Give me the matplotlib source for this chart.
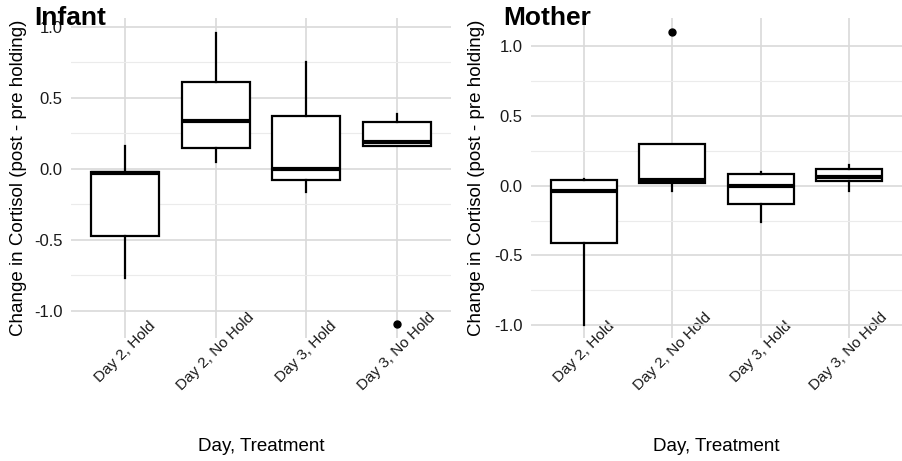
import matplotlib.pyplot as plt
from matplotlib.ticker import MultipleLocator

plt.rcParams['font.family'] = ['Liberation Sans', 'DejaVu Sans']
plt.rcParams['axes.unicode_minus'] = False

categories = ["Day 2, Hold", "Day 2, No Hold", "Day 3, Hold", "Day 3, No Hold"]

# infant: lower whisker, Q1, median, Q3, upper whisker, outliers
infant_whislo = [-0.77, 0.05, -0.16, 0.16]
infant_q1 = [-0.47, 0.15, -0.08, 0.16]
infant_med = [-0.03, 0.34, 0.00, 0.19]
infant_q3 = [-0.02, 0.61, 0.37, 0.33]
infant_whishi = [0.16, 0.96, 0.75, 0.39]
infant_fliers = [[], [], [], [-1.09]]

mother_whislo = [-1.00, -0.04, -0.26, -0.04]
mother_q1 = [-0.41, 0.02, -0.13, 0.03]
mother_med = [-0.04, 0.04, 0.00, 0.06]
mother_q3 = [0.04, 0.30, 0.08, 0.12]
mother_whishi = [0.05, 0.30, 0.10, 0.15]
mother_fliers = [[], [1.10], [], []]


def make_stats(lo, q1, med, q3, hi, fl):
    return [dict(whislo=a, q1=b, med=c, q3=d, whishi=e, fliers=f, label=lab)
            for a, b, c, d, e, f, lab in zip(lo, q1, med, q3, hi, fl, categories)]


def draw(ax, stats, ylim, title, title_x, ylab_x):
    ax.bxp(stats, positions=range(1, 5), widths=0.75, showcaps=False,
           patch_artist=True,
           boxprops=dict(facecolor='white', edgecolor='black', linewidth=1.6),
           medianprops=dict(color='black', linewidth=3),
           whiskerprops=dict(color='black', linewidth=1.6),
           flierprops=dict(marker='o', markerfacecolor='black',
                           markeredgecolor='black', markersize=5))
    ax.set_xlim(0.4, 4.6)
    ax.set_ylim(*ylim)
    ax.yaxis.set_major_locator(MultipleLocator(0.5))
    ax.yaxis.set_minor_locator(MultipleLocator(0.25))
    ax.set_axisbelow(True)
    ax.grid(which='major', color='#d9d9d9', linewidth=1.2)
    ax.grid(which='minor', axis='y', color='#ebebeb', linewidth=0.8)
    for s in ax.spines.values():
        s.set_visible(False)
    ax.tick_params(which='both', length=0, labelcolor='#1a1a1a')
    ax.tick_params(axis='y', labelsize=12, pad=6)
    ax.tick_params(axis='x', labelsize=11, pad=10)
    ax.set_xticks(range(1, 5))
    ax.set_xticklabels(categories, rotation=45, ha='center', va='center')
    ax.set_ylabel("Change in Cortisol (post - pre holding)", fontsize=13.5,
                  ha='center', va='center')
    ax.yaxis.set_label_coords(ylab_x, 0.5)
    ax.set_xlabel("Day, Treatment", fontsize=13.5)
    ax.xaxis.set_label_coords(0.5, -0.34)
    ax.xaxis.label.set_va('center')
    ax.figure.text(title_x, 0.962, title, fontsize=19, fontweight='bold',
                   va='center', ha='left')


fig = plt.figure(figsize=(9.02, 4.61), dpi=100)
ax1 = fig.add_axes([0.0787, 0.267, 0.4213, 0.694])
ax2 = fig.add_axes([0.5887, 0.267, 0.4113, 0.694])

draw(ax1, make_stats(infant_whislo, infant_q1, infant_med, infant_q3,
                     infant_whishi, infant_fliers), (-1.19, 1.063),
     "Infant", 0.038, -0.137)
draw(ax2, make_stats(mother_whislo, mother_q1, mother_med, mother_q3,
                     mother_whishi, mother_fliers), (-1.09, 1.20),
     "Mother", 0.558, -0.146)

fig.savefig("out.png", dpi=100)
